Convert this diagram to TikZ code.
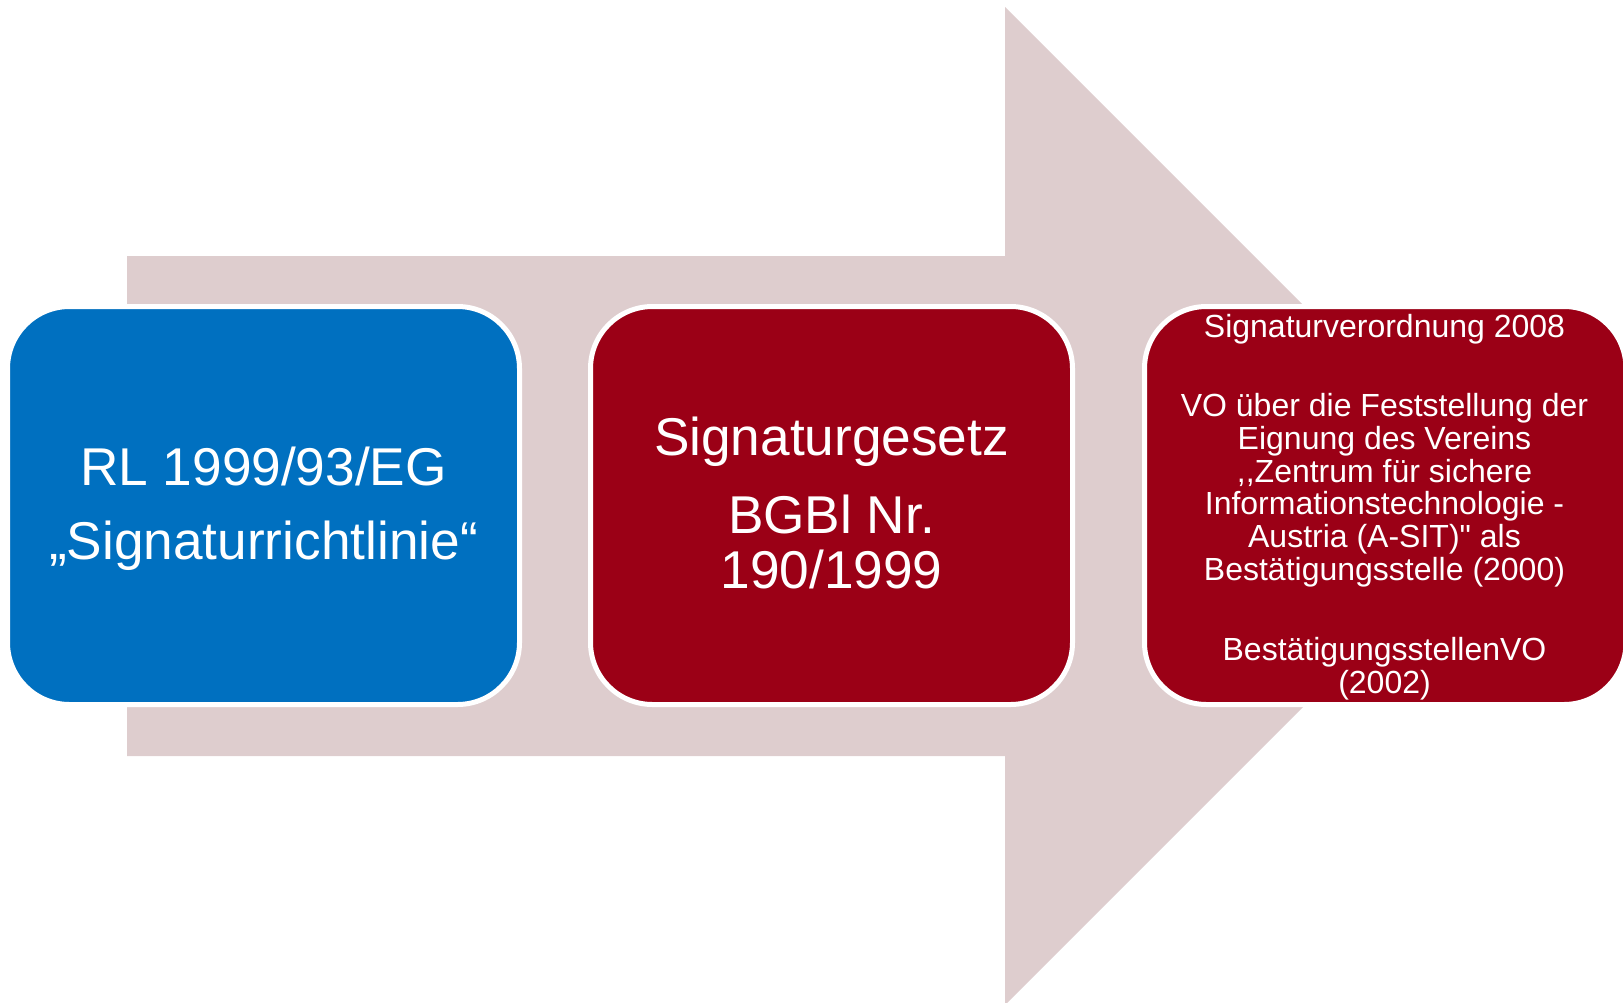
\documentclass[tikz,border=0pt]{standalone}
\usepackage{fontspec}
\setmainfont{Liberation Sans}
\newfontfamily\rawfont{Liberation Sans}
\definecolor{arrowpink}{RGB}{222,205,206}
\definecolor{boxblue}{RGB}{0,112,192}
\definecolor{boxred}{RGB}{155,0,22}
\begin{document}
\begin{tikzpicture}[x=1pt,y=-1pt,
  stage/.style={rectangle, rounded corners=62pt, draw=white, line width=5pt, inner sep=0pt, minimum height=398pt},
  big/.style={text=white, anchor=base, font=\fontsize{53.2}{60}\selectfont, inner sep=0pt},
  small/.style={text=white, anchor=base, font=\fontsize{32}{36}\selectfont, inner sep=0pt}]
\useasboundingbox (0,0) rectangle (1623,1002);
\clip (0,0) rectangle (1623,1002);
% background arrow
\fill[arrowpink] (127,256) -- (1005,256) -- (1005,7) -- (1504,506) -- (1005,1005) -- (1005,756) -- (127,756) -- cycle;
% boxes
\node[stage, fill=boxblue, minimum width=512pt] (b1) at (263.5,505.5) {};
\node[stage, fill=boxred, minimum width=482pt] (b2) at (831.5,505.5) {};
\node[stage, fill=boxred, minimum width=481.5pt] (b3) at (1385.25,505.5) {};
% box 1 text
\node[big] (t11) at (263.5,485) {RL 1999/93/EG};
\node[big] (t12) at (263.5,559) {„Signaturrichtlinie“};
% box 2 text
\node[big] (t21) at (831.5,455.7) {Signaturgesetz};
\node[big] (t22) at (831.5,533) {BGBl Nr.};
\node[big] (t23) at (831.5,588) {190/1999};
% box 3 text
\node[small] (t31) at (1384.5,337) {Signaturverordnung 2008};
\node[small] (t32) at (1384.5,416.5) {VO über die Feststellung der};
\node[small] (t33) at (1384.5,449.3) {Eignung des Vereins};
\node[small] (t34) at (1384.5,482.1) {,{},Zentrum für sichere};
\node[small] (t35) at (1384.5,514.9) {Informationstechnologie -};
\node[small] (t36) at (1384.5,547.7) {Austria (A-SIT){\rawfont "} als};
\node[small] (t37) at (1384.5,580.5) {Bestätigungsstelle (2000)};
\node[small] (t38) at (1384.5,660.5) {BestätigungsstellenVO};
\node[small] (t39) at (1384.5,693.3) {(2002)};
\end{tikzpicture}
\end{document}
